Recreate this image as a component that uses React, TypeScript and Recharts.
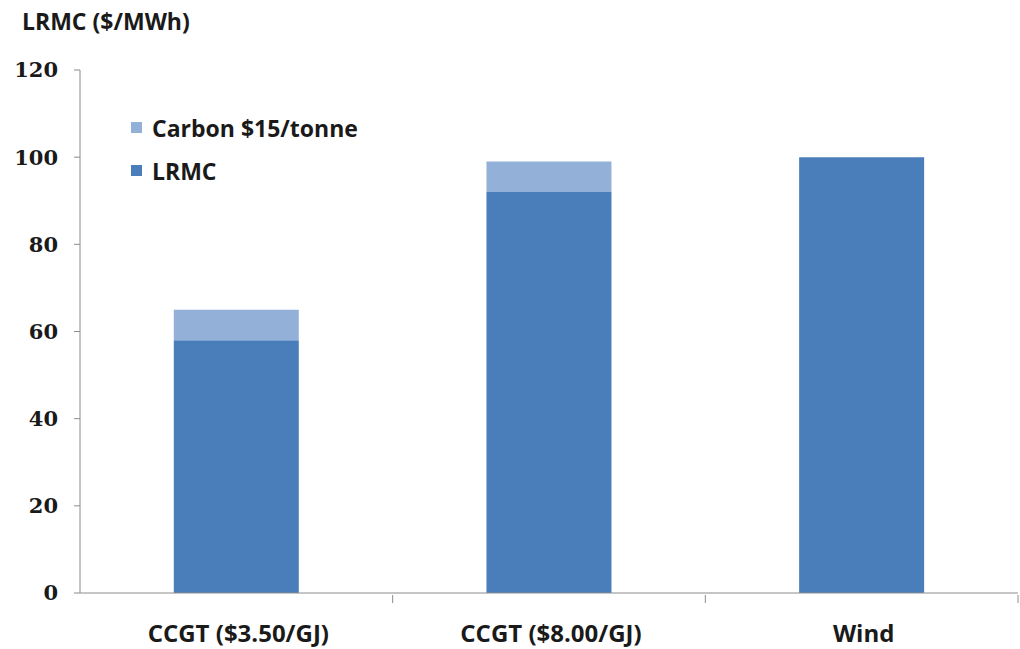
import { Bar, BarChart, XAxis, YAxis } from "recharts";

const categories = ["CCGT ($3.50/GJ)", "CCGT ($8.00/GJ)", "Wind"];
const lrmc = [58, 92, 100];
const carbon = [7, 7, 0];
const yTicks = [0, 20, 40, 60, 80, 100, 120];

const LRMC_COLOR = "#4a7ebb";
const CARBON_COLOR = "#93b1d8";
const AXIS_COLOR = "#8c8c8c";
const TEXT_COLOR = "#1a1a1a";
const LABEL_FONT = "'Open Sans', 'Noto Sans', sans-serif";
const NUM_FONT = "'DejaVu Serif', serif";

const data = categories.map((name, i) => ({ name, lrmc: lrmc[i], carbon: carbon[i] }));

const legendItems = [
  { label: "Carbon $15/tonne", color: CARBON_COLOR },
  { label: "LRMC", color: LRMC_COLOR },
];

// category label plus a small tick at the right edge of each band
function CategoryTick(props: any) {
  const { x, y, payload } = props;
  const half = payload?.offset ?? 156;
  return (
    <g>
      <line x1={x + half} x2={x + half} y1={y} y2={y + 8} stroke={AXIS_COLOR} />
      <text
        x={x + 2}
        y={y + 47}
        textAnchor="middle"
        fontFamily={LABEL_FONT}
        fontWeight={700}
        fontSize={24}
        fill={TEXT_COLOR}
      >
        {payload.value}
      </text>
    </g>
  );
}

export default function App() {
  return (
    <div style={{ position: "absolute", left: 0, top: 0, width: 1020, height: 649, background: "#fff" }}>
      <div
        style={{
          position: "absolute",
          left: 22,
          top: 5,
          fontFamily: LABEL_FONT,
          fontWeight: 700,
          fontSize: 23,
          color: TEXT_COLOR,
        }}
      >
        LRMC ($/MWh)
      </div>
      <div
        style={{
          position: "absolute",
          left: 131,
          top: 106,
          fontFamily: LABEL_FONT,
          fontWeight: 700,
          fontSize: 23,
          color: TEXT_COLOR,
          zIndex: 1,
        }}
      >
        {legendItems.map((it) => (
          <div key={it.label} style={{ display: "flex", alignItems: "center", height: 43 }}>
            <span style={{ width: 11, height: 11, background: it.color, marginRight: 10 }} />
            {it.label}
          </div>
        ))}
      </div>
      <BarChart
        width={1020}
        height={649}
        data={data}
        margin={{ top: 70, right: 2, bottom: 0, left: 0 }}
        barCategoryGap="30%"
      >
        <YAxis
          width={80}
          domain={[0, 120]}
          ticks={yTicks}
          interval={0}
          axisLine={{ stroke: AXIS_COLOR }}
          tickLine={{ stroke: AXIS_COLOR }}
          tickSize={6}
          tickMargin={16}
          tick={{ fontFamily: NUM_FONT, fontWeight: 700, fontSize: 21, fill: TEXT_COLOR }}
        />
        <XAxis
          dataKey="name"
          height={56}
          axisLine={{ stroke: AXIS_COLOR }}
          tickLine={false}
          tickSize={0}
          interval={0}
          tick={<CategoryTick />}
        />
        <Bar dataKey="lrmc" stackId="a" fill={LRMC_COLOR} isAnimationActive={false} />
        <Bar dataKey="carbon" stackId="a" fill={CARBON_COLOR} isAnimationActive={false} />
      </BarChart>
    </div>
  );
}
